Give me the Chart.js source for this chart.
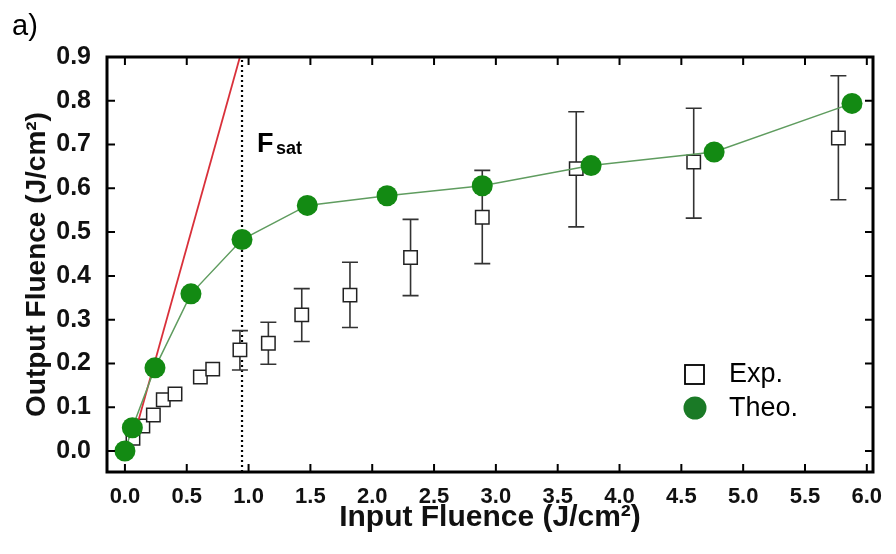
<!DOCTYPE html>
<html>
<head>
<meta charset="utf-8">
<script src="https://cdn.jsdelivr.net/npm/chart.js@4.4.1/dist/chart.umd.min.js"></script>
<style>
  html, body { margin: 0; padding: 0; background: #fff; }
</style>
</head>
<body>
<canvas id="graficoFluence" width="896" height="554"></canvas>
<script>
// valores
var theoX = [0, 0.06, 0.243, 0.534, 0.947, 1.475, 2.12, 2.89, 3.77, 4.765, 5.88];
var theoY = [0, 0.053, 0.19, 0.359, 0.483, 0.561, 0.583, 0.606, 0.652, 0.683, 0.794];

var expX    = [0.065, 0.145, 0.23, 0.31, 0.405, 0.61, 0.71, 0.93, 1.16, 1.43, 1.82, 2.31, 2.89, 3.65, 4.60, 5.77];
var expY    = [0.029, 0.057, 0.082, 0.117, 0.13, 0.169, 0.187, 0.231, 0.246, 0.311, 0.356, 0.442, 0.534, 0.645, 0.660, 0.715];
var expLow  = [null, null, null, null, null, null, null, 0.185, 0.198, 0.250, 0.282, 0.355, 0.428, 0.512, 0.532, 0.574];
var expHigh = [null, null, null, null, null, null, null, 0.275, 0.294, 0.371, 0.431, 0.529, 0.641, 0.775, 0.783, 0.857];

var linearX = [0.08, 0.93];
var linearY = [0.04, 0.9];
var fsat = 0.947;

var xTicks = [0, 0.5, 1, 1.5, 2, 2.5, 3, 3.5, 4, 4.5, 5, 5.5, 6];
var yTicks = [0, 0.1, 0.2, 0.3, 0.4, 0.5, 0.6, 0.7, 0.8, 0.9];

function pontos(xs, ys) {
	return xs.map(function(x, i) { return { x: x, y: ys[i] }; });
}

var SANS = '"Liberation Sans", Arial, sans-serif';

var moldura = {
	id: 'moldura',
	beforeDatasetsDraw: function(chart) {
		var ctx = chart.ctx, xs = chart.scales.x, ys = chart.scales.y, a = chart.chartArea;
		ctx.save();
		// linha pontilhada Fsat
		var px = xs.getPixelForValue(fsat);
		ctx.strokeStyle = '#000';
		ctx.lineWidth = 2.2;
		ctx.setLineDash([2, 3]);
		ctx.beginPath();
		ctx.moveTo(px, a.bottom);
		ctx.lineTo(px, a.top);
		ctx.stroke();
		ctx.setLineDash([]);
		// barras de erro
		ctx.strokeStyle = '#333';
		ctx.lineWidth = 1.6;
		expX.forEach(function(x, i) {
			if (expLow[i] === null) return;
			var cx = xs.getPixelForValue(x);
			var y1 = ys.getPixelForValue(expLow[i]);
			var y2 = ys.getPixelForValue(expHigh[i]);
			ctx.beginPath();
			ctx.moveTo(cx, y1); ctx.lineTo(cx, y2);
			ctx.moveTo(cx - 8, y1); ctx.lineTo(cx + 8, y1);
			ctx.moveTo(cx - 8, y2); ctx.lineTo(cx + 8, y2);
			ctx.stroke();
		});
		ctx.restore();
	},
	afterDatasetsDraw: function(chart) {
		var ctx = chart.ctx, xs = chart.scales.x, ys = chart.scales.y, a = chart.chartArea;
		ctx.save();
		// ticks para dentro nos quatro lados
		ctx.strokeStyle = '#000';
		ctx.lineWidth = 2;
		ctx.beginPath();
		xTicks.forEach(function(v) {
			var p = xs.getPixelForValue(v);
			ctx.moveTo(p, a.bottom); ctx.lineTo(p, a.bottom - 8);
			ctx.moveTo(p, a.top); ctx.lineTo(p, a.top + 8);
		});
		yTicks.forEach(function(v) {
			var p = ys.getPixelForValue(v);
			ctx.moveTo(a.left, p); ctx.lineTo(a.left + 8, p);
			ctx.moveTo(a.right, p); ctx.lineTo(a.right - 8, p);
		});
		ctx.stroke();
		// moldura
		ctx.lineWidth = 3;
		ctx.strokeRect(a.left, a.top, a.right - a.left, a.bottom - a.top);

		// rotulo Fsat
		ctx.fillStyle = '#000';
		ctx.textBaseline = 'alphabetic';
		ctx.textAlign = 'left';
		ctx.font = 'bold 27px ' + SANS;
		ctx.fillText('F', 257, 152);
		ctx.font = 'bold 18px ' + SANS;
		ctx.fillText('sat', 276, 154);

		// legenda
		ctx.lineWidth = 1.8;
		ctx.fillStyle = '#fff';
		ctx.fillRect(685, 365, 19, 19);
		ctx.strokeRect(685, 365, 19, 19);
		ctx.fillStyle = '#1a7a26';
		ctx.beginPath();
		ctx.arc(695, 408, 11.5, 0, Math.PI * 2);
		ctx.fill();
		ctx.fillStyle = '#000';
		ctx.font = '27px ' + SANS;
		ctx.textBaseline = 'middle';
		ctx.fillText('Exp.', 729, 375);
		ctx.fillText('Theo.', 729, 409);

		// letra do painel
		ctx.textBaseline = 'alphabetic';
		ctx.font = '29px ' + SANS;
		ctx.fillText('a)', 12, 35);
		ctx.restore();
	}
};

new Chart(document.getElementById('graficoFluence').getContext('2d'), {
	type: 'scatter',
	data: {
		datasets: [{
			label: 'Theo.',
			data: pontos(theoX, theoY),
			showLine: true,
			borderColor: '#5f9c5f',
			borderWidth: 1.5,
			pointStyle: 'circle',
			pointRadius: 10.5,
			pointBackgroundColor: '#138a13',
			pointBorderColor: '#138a13',
			pointBorderWidth: 0
		}, {
			label: 'linear',
			data: pontos(linearX, linearY),
			showLine: true,
			borderColor: '#d9303a',
			borderWidth: 1.8,
			pointRadius: 0
		}, {
			label: 'Exp.',
			data: pontos(expX, expY),
			pointStyle: 'rect',
			pointRadius: 9.5,
			pointBackgroundColor: '#fff',
			pointBorderColor: '#222',
			pointBorderWidth: 1.5
		}]
	},
	options: {
		responsive: false,
		animation: false,
		devicePixelRatio: 1,
		layout: { padding: { left: 0, right: 23, top: 57, bottom: 0 } },
		plugins: { legend: { display: false }, tooltip: { enabled: false } },
		scales: {
			x: {
				type: 'linear',
				min: -0.145,
				max: 6.05,
				grid: { display: false },
				border: { display: false },
				afterBuildTicks: function(scale) {
					scale.ticks = xTicks.map(function(v) { return { value: v }; });
				},
				afterFit: function(scale) { scale.height = 82; },
				ticks: {
					padding: 4,
					maxRotation: 0,
					color: '#111',
					font: { family: SANS, size: 22, weight: 'bold' },
					callback: function(v) { return v.toFixed(1); }
				},
				title: {
					display: true,
					text: 'Input Fluence (J/cm²)',
					color: '#111',
					font: { family: SANS, size: 30, weight: 'bold' },
					padding: { top: 0, bottom: 18 }
				}
			},
			y: {
				type: 'linear',
				min: -0.048,
				max: 0.9,
				grid: { display: false },
				border: { display: false },
				afterBuildTicks: function(scale) {
					scale.ticks = yTicks.map(function(v) { return { value: v }; });
				},
				afterFit: function(scale) { scale.width = 107; },
				ticks: {
					padding: 8,
					color: '#111',
					font: { family: SANS, size: 25, weight: 'bold' },
					callback: function(v) { return v.toFixed(1); }
				},
				title: {
					display: true,
					text: 'Output Fluence (J/cm²)',
					color: '#111',
					font: { family: SANS, size: 28, weight: 'bold' },
					padding: { top: 20, bottom: 0 }
				}
			}
		}
	},
	plugins: [moldura]
});
</script>
</body>
</html>
